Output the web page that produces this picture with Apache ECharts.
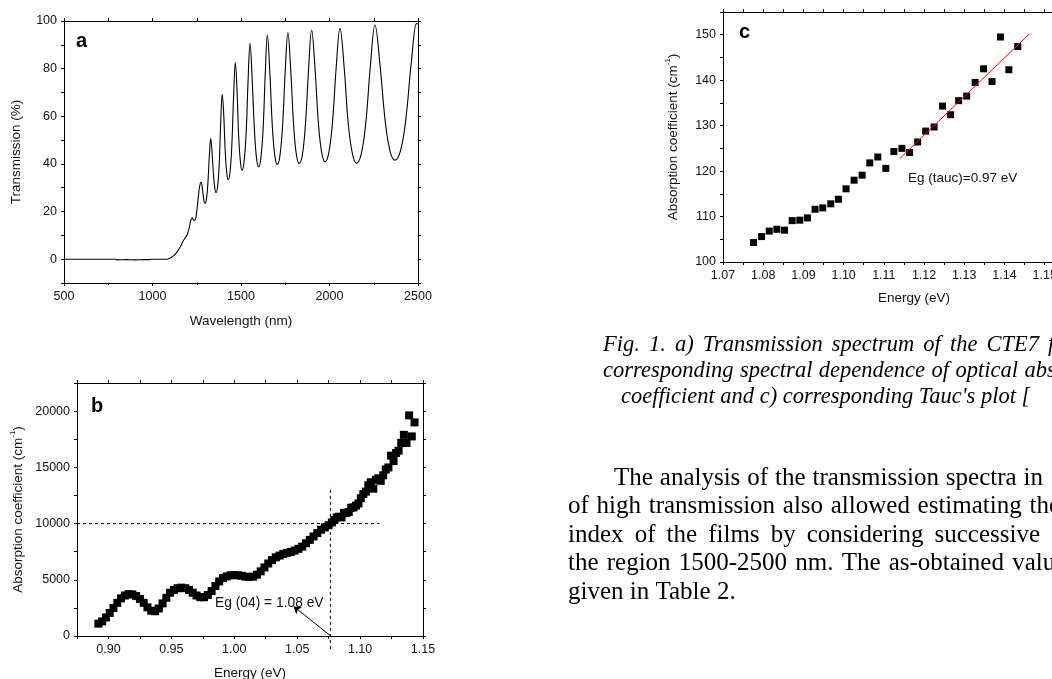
<!DOCTYPE html>
<html>
<head>
<meta charset="utf-8">
<script src="https://cdn.jsdelivr.net/npm/echarts@6/dist/echarts.min.js"></script>
<style>
html, body { margin: 0; padding: 0; background: #fff; overflow: hidden; }
#chart { width: 1052px; height: 679px; }
</style>
</head>
<body>
<div id="chart"></div>
<script>
/* a) transmission spectrum */
const wavelength = [500, 790, 800, 850, 900, 950, 980, 990, 1050, 1080, 1100, 1120, 1140, 1160, 1172, 1185, 1197, 1207, 1217, 1225,
    1233, 1240, 1248, 1256, 1265, 1274, 1280, 1286, 1291, 1297, 1305, 1313, 1321, 1329, 1336, 1344, 1352, 1359, 1368, 1377,
    1385, 1394, 1403, 1411, 1420, 1428, 1438, 1448, 1458, 1468, 1478, 1487, 1497, 1506, 1517, 1529, 1540, 1551, 1563, 1576,
    1588, 1600, 1612, 1625, 1637, 1649, 1663, 1677, 1691, 1705, 1720, 1735, 1750, 1765, 1781, 1797, 1813, 1829, 1847, 1864,
    1882, 1899, 1918, 1937, 1956, 1975, 1996, 2017, 2038, 2059, 2083, 2106, 2130, 2153, 2179, 2205, 2231, 2257, 2285, 2314,
    2342, 2370, 2401, 2431, 2462, 2492, 2500];
const transmission = [0, 0, -0.3, -0.2, -0.3, -0.2, -0.2, 0, 0, 0, 0.5, 1.5, 3.2, 5.5, 7.5, 9, 10.5, 13, 16.5, 17.4,
    16.4, 16.4, 19, 24, 30, 32.4, 30.7, 27.2, 24.4, 23.4, 25.4, 32.0, 43.2, 50.6, 45.2, 36.0, 29.9, 27.9, 30.6, 39.8,
    56.9, 69.2, 59.8, 45.0, 36.0, 33.3, 36.5, 47.5, 67.9, 82.6, 70.1, 51.4, 40.6, 37.3, 40.8, 52.8, 74.9, 90.6, 75.7, 54.2,
    42.2, 38.7, 42.4, 54.8, 77.8, 94.1, 78.4, 55.9, 43.5, 39.8, 43.5, 56.1, 79.1, 95.2, 79.3, 56.5, 43.9, 40.2, 43.9, 56.7,
    79.9, 96.2, 80.3, 57.4, 44.7, 40.9, 44.7, 57.5, 80.7, 96.9, 80.4, 56.9, 44.1, 40.3, 44.1, 57.2, 81.2, 98.3, 81.9, 58.5,
    45.4, 41.6, 45.5, 58.6, 82.4, 99.0, 98.6];

/* b) absorption coefficient */
const energyB = [0.892, 0.895, 0.898, 0.901, 0.904, 0.907, 0.910, 0.913, 0.916, 0.919, 0.922, 0.925, 0.928, 0.931, 0.934,
    0.937, 0.940, 0.943, 0.946, 0.949, 0.952, 0.955, 0.958, 0.961, 0.964, 0.967, 0.970, 0.973, 0.976, 0.979, 0.982, 0.985,
    0.988, 0.991, 0.994, 0.997, 1.000, 1.003, 1.006, 1.009, 1.012, 1.015, 1.018, 1.021, 1.024, 1.027, 1.030, 1.033, 1.036,
    1.039, 1.042, 1.045, 1.048, 1.051, 1.054, 1.057, 1.060, 1.063, 1.066, 1.069, 1.072, 1.075,
    1.0776, 1.0796, 1.0815, 1.0834, 1.0853, 1.0872, 1.0891, 1.0910, 1.0929, 1.0948, 1.0968, 1.0987, 1.1006, 1.1026, 1.1046,
    1.1065, 1.1085, 1.1105, 1.1125, 1.1145, 1.1164, 1.1184, 1.1204, 1.1225, 1.1246, 1.1266, 1.1286, 1.1306, 1.1327, 1.1348,
    1.1369, 1.1390, 1.1411, 1.1433];
const alphaB = [1100, 1300, 1650, 2050, 2500, 2950, 3350, 3600, 3720, 3700, 3550, 3300, 2950, 2550, 2250,
    2200, 2450, 2900, 3400, 3850, 4100, 4250, 4300, 4250, 4100, 3850, 3600, 3450, 3450, 3650, 4000, 4450,
    4850, 5150, 5300, 5400, 5420, 5400, 5350, 5280, 5250, 5280, 5450, 5750, 6100, 6450, 6750, 7000, 7150,
    7300, 7400, 7480, 7600, 7750, 7950, 8250, 8550, 8850, 9150, 9450, 9650, 9850,
    10100, 10330, 10550, 10610, 10550, 10950, 10950, 11030, 11400, 11440, 11600, 11790, 12250, 12630, 12840,
    13410, 13670, 13100, 13890, 14020, 13800, 14290, 14810, 14990, 16040, 15560, 16270, 16480, 17180, 17890,
    17170, 19620, 17750, 19000];
const levelB = [[0.875, 10000], [1.1156, 10000]];
const egLineB = [[1.0764, -1150], [1.0764, 13270]];
const egArrowB = [[1.0768, 0], [1.0472, 2630]];

/* c) Tauc plot */
const energyC = [1.0776, 1.0796, 1.0815, 1.0834, 1.0853, 1.0872, 1.0891, 1.0910, 1.0929, 1.0948, 1.0968, 1.0987, 1.1006,
    1.1026, 1.1046, 1.1065, 1.1085, 1.1105, 1.1125, 1.1145, 1.1164, 1.1184, 1.1204, 1.1225, 1.1246, 1.1266, 1.1286, 1.1306,
    1.1327, 1.1348, 1.1369, 1.1390, 1.1411, 1.1433];
const taucC = [104.3, 105.6, 106.8, 107.2, 107.0, 109.1, 109.2, 109.7, 111.6, 111.9, 112.8, 113.8, 116.1,
    118.0, 119.1, 121.8, 123.1, 120.6, 124.3, 125.0, 124.1, 126.4, 128.8, 129.7, 134.3, 132.4, 135.5, 136.5,
    139.5, 142.5, 139.7, 149.5, 142.3, 147.4];
const fitC = [[1.1139, 122.7], [1.1461, 150.1]];

/* page text next to the figure */
const captionLines = [
    ['Fig.', '1.', 'a)', 'Transmission', 'spectrum', 'of', 'the', 'CTE7', 'film,'],
    ['corresponding', 'spectral', 'dependence', 'of', 'optical', 'absorption'],
    ['coefficient and c) corresponding Tauc\'s plot [']
];
const bodyLines = [
    ['The', 'analysis', 'of', 'the', 'transmission', 'spectra', 'in'],
    ['of', 'high', 'transmission', 'also', 'allowed', 'estimating', 'the'],
    ['index', 'of', 'the', 'films', 'by', 'considering', 'successive'],
    ['the', 'region', '1500-2500', 'nm.', 'The', 'as-obtained', 'values'],
    ['given in Table 2.']
];

const SANS = 'Liberation Sans';
const SERIF = 'Liberation Serif';
const INK = '#111';

function pairs(xs, ys) {
    return xs.map((x, i) => [x, ys[i]]);
}

function axis(grid, pos, min, max, interval, fmt, extra) {
    const a = {
        type: 'value', gridIndex: grid, position: pos,
        min: min, max: max, interval: interval,
        axisLine: { show: true, onZero: false, lineStyle: { color: '#000', width: 1 } },
        axisTick: { show: true, length: 3, lineStyle: { color: '#000', width: 1 } },
        splitLine: { show: false },
        axisLabel: fmt ? {
            show: true, formatter: fmt, margin: 7,
            color: INK, fontFamily: SANS, fontSize: 12.5
        } : { show: false }
    };
    return Object.assign(a, extra || {});
}

const nameStyle = {
    color: INK, fontFamily: SANS, fontSize: 13.5, lineHeight: 18,
    rich: { sup: { fontSize: 8, lineHeight: 8, verticalAlign: 'top', fontFamily: SANS, color: INK } }
};

const fmtA_x = v => String(v);
const fmtA_y = v => (v >= 0 && v % 20 === 0) ? String(v) : '';
const fmtB_x = v => { const k = Math.round(v * 1000); return k % 50 === 0 ? (k / 1000).toFixed(2) : ''; };
const fmtB_y = v => (Math.round(v) % 5000 === 0) ? String(Math.round(v)) : '';
const fmtC_x = v => { const k = Math.round(v * 1000); return k % 10 === 0 ? (k / 1000).toFixed(2) : ''; };
const fmtC_y = v => (Math.round(v) % 10 === 0) ? String(Math.round(v)) : '';

function txt(x, y, text, font, color) {
    return {
        type: 'text', x: x, y: y, silent: true,
        style: { text: text, font: font, fill: color || INK, align: 'left', verticalAlign: 'middle',
                 textAlign: 'left', textVerticalAlign: 'middle' }
    };
}

// justified line: words spread so that word number `upto` ends at xEnd, rest follow with same gap
const measure = document.createElement('canvas').getContext('2d');
function wordWidth(w, font) { measure.font = font; return measure.measureText(w).width; }
function lineOfWords(words, x0, y, font, upto, xEnd) {
    const ws = words.map(w => wordWidth(w, font));
    let gap = wordWidth(' ', font);
    if (upto && upto > 1) {
        const used = ws.slice(0, upto).reduce((s, v) => s + v, 0);
        gap = Math.max(gap * 0.8, (xEnd - x0 - used) / (upto - 1));
    }
    const out = [];
    let x = x0;
    words.forEach((w, i) => { out.push(txt(x, y, w, font, '#000')); x += ws[i] + gap; });
    return out;
}

const graphics = [
    txt(76, 41, 'a', 'bold 20px ' + SANS, '#000'),
    txt(91, 406, 'b', 'bold 20px ' + SANS, '#000'),
    txt(739, 32, 'c', 'bold 20px ' + SANS, '#000'),
    txt(215, 603, 'Eg (04) = 1.08 eV', '13.8px ' + SANS),
    txt(908, 178, 'Eg (tauc)=0.97 eV', '13.5px ' + SANS)
];
const capFont = 'italic 22.5px ' + SERIF;
graphics.push(...lineOfWords(captionLines[0], 603, 345, capFont, 8, 1039));
graphics.push(...lineOfWords(captionLines[1], 603, 371, capFont, 5, 1018));
graphics.push(...lineOfWords(captionLines[2], 621, 397, capFont));
const bodyFont = '25px ' + SERIF;
graphics.push(...lineOfWords(bodyLines[0], 614, 478, bodyFont, 7, 1043));
graphics.push(...lineOfWords(bodyLines[1], 568, 506, bodyFont, 7, 1060));
graphics.push(...lineOfWords(bodyLines[2], 568, 535, bodyFont, 7, 1040));
graphics.push(...lineOfWords(bodyLines[3], 568, 563, bodyFont, 7, 1076));
graphics.push(...lineOfWords(bodyLines[4], 568, 592, bodyFont));

const myChart = echarts.init(document.getElementById('chart'), null, { renderer: 'canvas' });

const option = {
    animation: false,
    backgroundColor: '#fff',
    grid: [
        { left: 64, top: 21, width: 354, height: 262, outerBoundsMode: 'none' },
        { left: 77, top: 383, width: 346, height: 253, outerBoundsMode: 'none' },
        { left: 723, top: 12, width: 382, height: 250, outerBoundsMode: 'none' }
    ],
    xAxis: [
        axis(0, 'bottom', 500, 2500, 500, fmtA_x, {
            name: 'Wavelength (nm)', nameLocation: 'middle', nameGap: 29, nameTextStyle: nameStyle,
            minorTick: { show: true, splitNumber: 2, length: 2, lineStyle: { color: '#000' } }
        }),
        axis(0, 'top', 500, 2500, 250, null),
        axis(1, 'bottom', 0.875, 1.15, 0.025, fmtB_x, {
            name: 'Energy (eV)', nameLocation: 'middle', nameGap: 28, nameTextStyle: nameStyle
        }),
        axis(1, 'top', 0.875, 1.15, 0.025, null),
        axis(2, 'bottom', 1.07, 1.165, 0.005, fmtC_x, {
            name: 'Energy (eV)', nameLocation: 'middle', nameGap: 27, nameTextStyle: nameStyle
        }),
        axis(2, 'top', 1.07, 1.165, 0.005, null)
    ],
    yAxis: [
        axis(0, 'left', -10, 100, 10, fmtA_y, {
            name: 'Transmission (%)', nameLocation: 'middle', nameGap: 39, nameTextStyle: nameStyle
        }),
        axis(0, 'right', -10, 100, 10, null),
        axis(1, 'left', 0, 22500, 2500, fmtB_y, {
            name: 'Absorption coefficient (cm{sup|-1})', nameLocation: 'middle', nameGap: 50, nameTextStyle: nameStyle
        }),
        axis(1, 'right', 0, 22500, 2500, null),
        axis(2, 'left', 100, 155, 5, fmtC_y, {
            name: 'Absorption coefficient (cm{sup|-1})', nameLocation: 'middle', nameGap: 41, nameTextStyle: nameStyle
        }),
        axis(2, 'right', 100, 155, 5, null)
    ],
    series: [
        {
            name: 'Transmission', type: 'line', xAxisIndex: 0, yAxisIndex: 0,
            data: pairs(wavelength, transmission),
            smooth: 0.4, symbol: 'none',
            lineStyle: { color: '#000', width: 1.1 }
        },
        {
            name: 'Absorption', type: 'scatter', xAxisIndex: 2, yAxisIndex: 2,
            data: pairs(energyB, alphaB),
            symbol: 'rect', symbolSize: 8,
            itemStyle: { color: '#000', opacity: 1 }
        },
        {
            name: 'Level', type: 'line', xAxisIndex: 2, yAxisIndex: 2,
            data: levelB, symbol: 'none',
            lineStyle: { color: '#000', width: 1, type: [3, 3] }
        },
        {
            name: 'Eg04', type: 'line', xAxisIndex: 2, yAxisIndex: 2,
            data: egLineB, symbol: 'none', clip: false,
            lineStyle: { color: '#000', width: 1, type: [3, 3] },
            markLine: {
                silent: true, animation: false,
                symbol: ['none', 'arrow'], symbolSize: 7,
                label: { show: false },
                lineStyle: { color: '#000', width: 1, type: 'solid' },
                data: [[{ coord: egArrowB[0] }, { coord: egArrowB[1] }]]
            }
        },
        {
            name: 'Tauc', type: 'scatter', xAxisIndex: 4, yAxisIndex: 4,
            data: pairs(energyC, taucC),
            symbol: 'rect', symbolSize: 7,
            itemStyle: { color: '#000', opacity: 1 }
        },
        {
            name: 'Fit', type: 'line', xAxisIndex: 4, yAxisIndex: 4,
            data: fitC, symbol: 'none',
            lineStyle: { color: '#ff0000', width: 1 }
        }
    ],
    graphic: graphics
};

myChart.setOption(option);
</script>
</body>
</html>
